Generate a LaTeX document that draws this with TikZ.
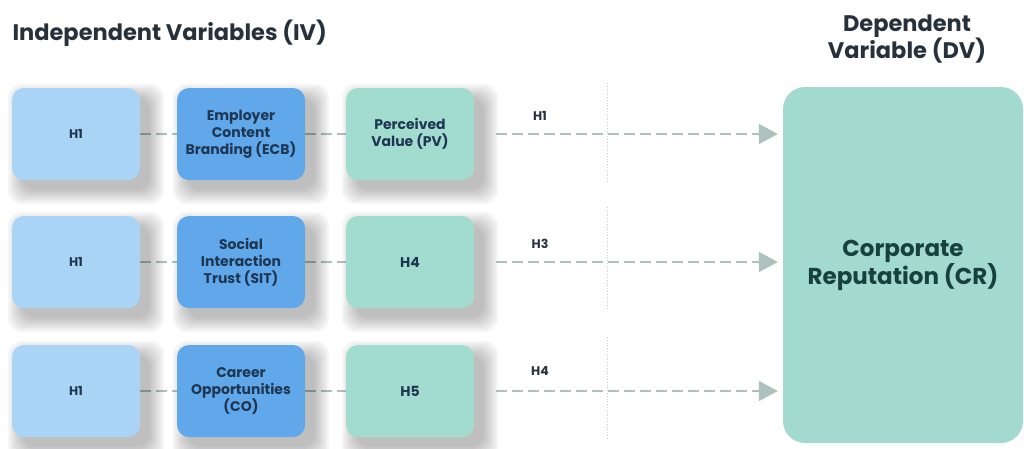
\documentclass[tikz,border=0pt]{standalone}
\usepackage{fontspec}
\setmainfont{Poppins}
\usetikzlibrary{arrows.meta,backgrounds}

\definecolor{ivlight}{HTML}{AAD4F6}
\definecolor{ivmid}{HTML}{60A8EA}
\definecolor{medteal}{HTML}{A2DCCF}
\definecolor{crteal}{HTML}{A3DACF}
\definecolor{inktext}{HTML}{1E3652}
\definecolor{crtext}{HTML}{17403E}
\definecolor{linkgray}{HTML}{AFC1BE}
\definecolor{headtext}{HTML}{26313B}

\tikzset{
  varbox/.style={rounded corners=12pt, minimum width=128pt, minimum height=92pt,
    align=center, text=inktext, font=\fontsize{14}{17}\selectfont\bfseries},
  hbox/.style={varbox, fill=ivlight, font=\fontsize{12.5}{14}\selectfont\bfseries},
  ivbox/.style={varbox, fill=ivmid},
  medbox/.style={varbox, fill=medteal},
  link/.style={draw=linkgray, line width=1.8pt, dash pattern=on 11pt off 5pt},
  hlabel/.style={text=headtext, font=\fontsize{12.5}{14}\selectfont\bfseries},
  heading/.style={text=headtext, font=\fontsize{22.5}{24}\selectfont\bfseries},
}

% soft shadow down and to the right of a box
\newcommand\softshadow[1]{
  \foreach \s in {0,2,...,14}{
    \fill[black, opacity=0.035, rounded corners=14pt]
      ([xshift=10pt-\s pt, yshift=-10pt+\s pt]#1.north west)
      rectangle ([xshift=10pt+\s pt, yshift=-10pt-\s pt]#1.south east);
  }
}

\begin{document}
\begin{tikzpicture}[x=1pt, y=-1pt]
  \useasboundingbox (0, 0) rectangle (1024, 448);

  % headings
  \node[heading, anchor=west] (ivhead) at (9, 33) {Independent Variables (IV)};
  \node[heading, align=center] (dvhead) at (907, 39) {Dependent\\Variable (DV)};

  % dependent variable
  \node[varbox, fill=crteal, minimum width=240pt, minimum height=356pt, rounded corners=22pt,
    text=crtext, font=\fontsize{23}{26}\selectfont\bfseries] (cr) at (903, 265) {Corporate\\Reputation (CR)};

  % row 1
  \node[hbox] (h1a) at (76, 134) {H1};
  \node[ivbox] (ecb) at (241, 134) {Employer\\Content\\Branding (ECB)};
  \node[medbox] (pv) at (410, 134) {Perceived\\Value (PV)};

  % row 2
  \node[hbox] (h1b) at (76, 262) {H1};
  \node[ivbox] (sit) at (241, 262) {Social\\Interaction\\Trust (SIT)};
  \node[medbox] (hfour) at (410, 262) {H4};

  % row 3
  \node[hbox] (h1c) at (76, 391) {H1};
  \node[ivbox] (co) at (241, 391) {Career\\Opportunities\\(CO)};
  \node[medbox] (hfive) at (410, 391) {H5};

  % links and shadows, behind the boxes
  \begin{pgfonlayer}{background}
    \foreach \a/\b/\c in {h1a/ecb/pv, h1b/sit/hfour, h1c/co/hfive} {
      \draw[link] (\a.east) -- (\b.west);
      \draw[link] (\b.east) -- (\c.west);
    }
    \foreach \n in {h1a, ecb, pv, h1b, sit, hfour, h1c, co, hfive} {
      \softshadow{\n}
    }
  \end{pgfonlayer}
  \foreach \c in {pv, hfour, hfive}
    \draw[link, -{Triangle[length=19pt, width=20pt]}, shorten <=22pt, shorten >=5pt]
      (\c.east) -- (\c.east -| cr.west);

  % path labels
  \node[hlabel] (lone) at (540, 116) {H1};
  \node[hlabel] (lthree) at (540, 244) {H3};
  \node[hlabel] (lfour) at (540, 371) {H4};

  % dotted dividers
  \foreach \ya/\yb in {83/182, 207/308, 337/438}
    \draw[linkgray!80, line width=0.8pt, dotted] (607, \ya) -- (607, \yb);
\end{tikzpicture}
\end{document}
